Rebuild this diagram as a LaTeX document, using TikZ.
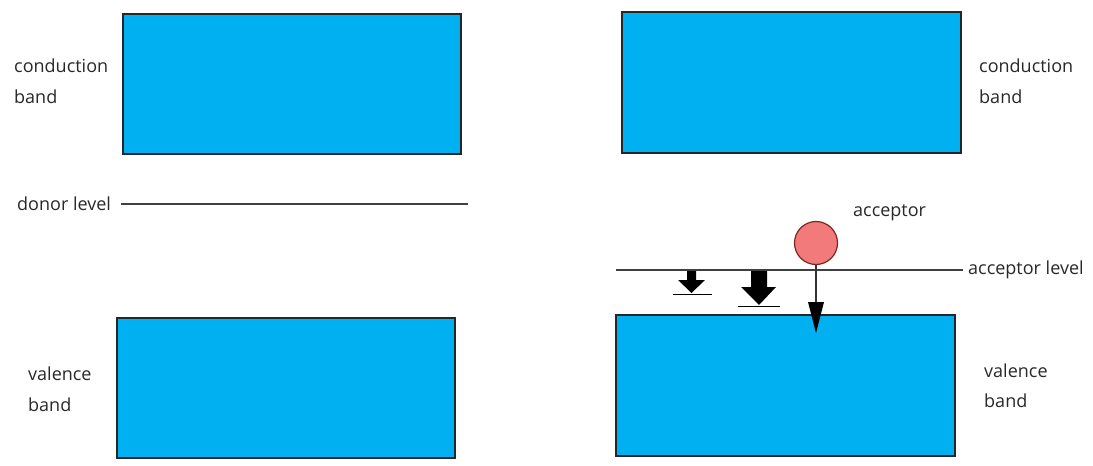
\documentclass[tikz,border=0pt]{standalone}
\usepackage{fontspec}
\setmainfont{Open Sans}
\definecolor{bandblue}{RGB}{0,176,240}
\definecolor{accfill}{RGB}{242,122,122}
\definecolor{accdraw}{RGB}{120,40,30}
\definecolor{txt}{RGB}{40,40,40}
\begin{document}
\begin{tikzpicture}[x=1pt,y=-1pt,
  band/.style={draw=black!85,line width=1.2pt,fill=bandblue,inner sep=0pt},
  lbl/.style={text=txt,font=\fontsize{18}{21}\selectfont,inner sep=0pt,anchor=west,align=left},
  lvl/.style={draw=black!75,line width=1.1pt}]
\useasboundingbox (0,0) rectangle (1093,466);
% bands
\node[band,minimum width=338pt,minimum height=140pt] (lcb) at (292,84) {};
\node[band,minimum width=338pt,minimum height=140pt] (lvb) at (286,388) {};
\node[band,minimum width=339pt,minimum height=141pt] (rcb) at (791.5,82.5) {};
\node[band,minimum width=339pt,minimum height=141pt] (rvb) at (785.5,385.5) {};
% labels
\node[lbl] (lcbl) at (14,66) {conduction};
\node[lbl] (lcbl2) at (14,97) {band};
\node[lbl] (rcbl) at (979,66) {conduction};
\node[lbl] (rcbl2) at (979,97) {band};
\node[lbl] (lvbl) at (28,374) {valence};
\node[lbl] (lvbl2) at (28,405) {band};
\node[lbl] (rvbl) at (984,371) {valence};
\node[lbl] (rvbl2) at (984,401) {band};
% donor level
\node[lbl] (dl) at (17,204) {donor level};
\coordinate (d1) at (121,204);
\coordinate (d2) at (468,204);
\draw[lvl] (d1) -- (d2);
% acceptor level
\coordinate (a1) at (616,270);
\coordinate (a2) at (963,270);
\draw[lvl] (a1) -- (a2);
\node[lbl] (al) at (968,270) {acceptor level};
% acceptor
\node[circle,draw=accdraw,line width=1.2pt,fill=accfill,minimum size=43pt,inner sep=0pt] (acc) at (816,243) {};
\node[lbl] (accl) at (853,213) {acceptor};
% thin arrow
\coordinate (tip) at (816,333);
\draw[black!80,line width=1.5pt] (acc.south) -- (816,302);
\fill[black] (808,302) -- (824,302) -- (tip) -- cycle;
% block arrows
\fill[black] (687,271) -- (696,271) -- (696,280) -- (705,280) -- (691.5,293) -- (678,280) -- (687,280) -- cycle;
\draw[black,line width=1.2pt] (673,294.5) -- (712,294.5);
\fill[black] (751,271) -- (767,271) -- (767,287) -- (776,287) -- (759,305) -- (741,287) -- (751,287) -- cycle;
\draw[black,line width=1.2pt] (738,306.5) -- (780,306.5);
\end{tikzpicture}
\end{document}
